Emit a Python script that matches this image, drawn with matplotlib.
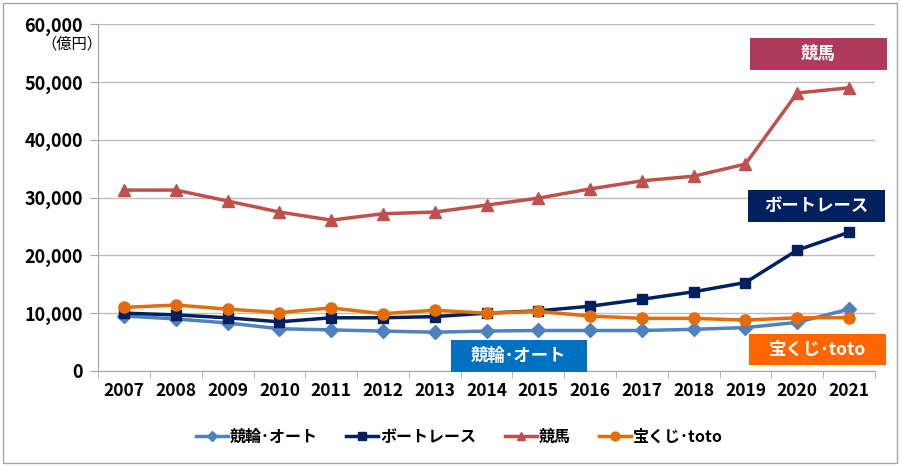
import matplotlib
matplotlib.use("Agg")
import matplotlib.pyplot as plt
from matplotlib.patches import Rectangle

plt.rcParams['font.family'] = ['Noto Sans CJK JP', 'DejaVu Sans']

years = [str(y) for y in range(2007, 2022)]
keirin_auto = [9500, 9000, 8300, 7300, 7100, 6900, 6700, 6900, 7000, 7000, 7000, 7200, 7500, 8400, 10700]
boat = [10000, 9700, 9200, 8500, 9200, 9200, 9400, 10000, 10400, 11200, 12400, 13700, 15300, 20900, 24000]
keiba = [31300, 31300, 29400, 27500, 26100, 27200, 27500, 28700, 29900, 31500, 32900, 33700, 35800, 48100, 49000]
takarakuji = [11000, 11400, 10700, 10100, 10900, 9900, 10500, 10000, 10300, 9500, 9100, 9100, 8800, 9200, 9200]

series = [
    ("競輪･オート", keirin_auto, "#4F81BD", "D", 7),
    ("ボートレース", boat, "#002060", "s", 7),
    ("競馬", keiba, "#C0504D", "^", 8),
    ("宝くじ･toto", takarakuji, "#E46C0A", "o", 8),
]

fig = plt.figure(figsize=(9.01, 4.66), dpi=100)
ax = fig.add_axes([0.109, 0.204, 0.862, 0.744])

x = list(range(len(years)))
for name, vals, col, mk, ms in series:
    ax.plot(x, vals, color=col, lw=2.5, marker=mk, markersize=ms, label=name, zorder=3)

ax.set_xlim(-0.5, len(years) - 0.5)
ax.set_ylim(0, 60000)
ax.set_yticks(range(0, 60001, 10000))
ax.set_yticklabels([f"{v:,}" for v in range(0, 60001, 10000)], fontsize=13, fontweight='bold')
ax.set_xticks(x)
ax.set_xticklabels(years, fontsize=12.5, fontweight='bold')
ax.tick_params(axis='x', which='major', length=0, pad=8)
ax.set_xticks([i - 0.5 for i in range(len(years) + 1)], minor=True)
ax.tick_params(axis='x', which='minor', length=5, color='#A6A6A6')
ax.tick_params(axis='y', length=6, color='#A6A6A6', pad=5, direction='out')
ax.grid(axis='y', color='#BFBFBF', lw=1)
ax.set_axisbelow(True)
for s in ['top', 'right']:
    ax.spines[s].set_visible(False)
for s in ['left', 'bottom']:
    ax.spines[s].set_color('#A6A6A6')

fig.text(0.046, 0.905, "（億円）", fontsize=11, ha='left', va='center')

# label boxes
boxes = [
    ("競馬", 0.832, 0.850, "#B03A5B"),
    ("ボートレース", 0.830, 0.524, "#002060"),
    ("競輪･オート", 0.500, 0.202, "#0070C0"),
    ("宝くじ･toto", 0.831, 0.216, "#FF6600"),
]
for txt, bx, by, col in boxes:
    fig.patches.append(Rectangle((bx, by), 0.152, 0.068, transform=fig.transFigure,
                                 facecolor=col, edgecolor='none', zorder=5))
    fig.text(bx + 0.076, by + 0.034, txt, color='white', fontsize=12.5, fontweight='bold',
             ha='center', va='center', zorder=6)

leg = ax.legend(loc='center', bbox_to_anchor=(0.465, -0.19), ncol=4, frameon=False,
                prop={'size': 11.5, 'weight': 'bold'}, handlelength=2.0,
                columnspacing=1.8, handletextpad=0.1, markerscale=0.8)

fig.patches.append(Rectangle((0.003, 0.006), 0.993, 0.988, transform=fig.transFigure,
                             facecolor='none', edgecolor='#A6A6A6', lw=1))

fig.savefig("out.png", dpi=100)
